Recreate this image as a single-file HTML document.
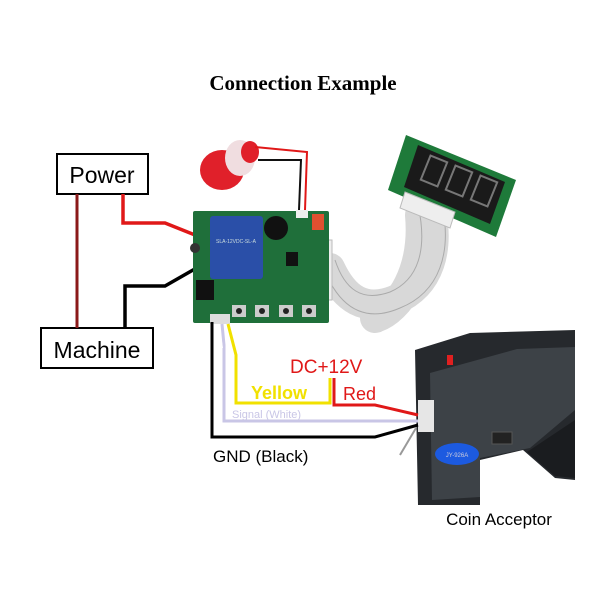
<!DOCTYPE html>
<html><head><style>
html,body{margin:0;padding:0;background:#fff;}
svg{display:block;}
text{font-family:"Liberation Sans",sans-serif;}
</style></head><body>
<svg width="600" height="600" viewBox="0 0 600 600" xmlns="http://www.w3.org/2000/svg">
<rect width="600" height="600" fill="#fff"/>
<text x="303" y="90" text-anchor="middle" style="font-family:'Liberation Serif',serif;font-weight:bold;font-size:21px">Connection Example</text>

<!-- boxes -->
<rect x="57" y="154" width="91" height="40" fill="#fff" stroke="#000" stroke-width="2"/>
<text x="102" y="183" text-anchor="middle" font-size="23">Power</text>
<rect x="41" y="328" width="112" height="40" fill="#fff" stroke="#000" stroke-width="2"/>
<text x="97" y="358" text-anchor="middle" font-size="23">Machine</text>
<line x1="77" y1="194" x2="77" y2="328" stroke="#8b1a1a" stroke-width="3"/>
<polyline points="123,194 123,223 165,223 200,237" fill="none" stroke="#e01818" stroke-width="3.5"/>
<polyline points="125,328 125,286 165,286 200,266" fill="none" stroke="#000" stroke-width="3.5"/>

<!-- ribbon cable -->
<g fill="none" stroke="#d8d8d8" stroke-width="30" stroke-linecap="round">
<path d="M430,205 C440,250 430,285 395,300 C365,312 345,300 330,268"/>
<path d="M420,215 C425,270 400,310 375,318"/>
</g>
<g fill="none" stroke="#aaa" stroke-width="1">
<path d="M418,205 C428,250 418,280 390,292 C362,302 345,290 335,260"/>
<path d="M442,205 C452,252 440,292 400,308 C368,322 345,310 330,282"/>
</g>
<rect x="318" y="240" width="14" height="60" fill="#eee" stroke="#bbb"/>

<!-- display -->
<polygon points="406,135 516,180 496,237 388,190" fill="#1e7a3a"/>
<polygon points="418,145 505,182 490,224 404,187" fill="#1a1a1a"/>
<g fill="none" stroke="#777" stroke-width="2">
<rect x="425" y="158" width="18" height="26" transform="rotate(22 434 171)"/>
<rect x="450" y="168" width="18" height="26" transform="rotate(22 459 181)"/>
<rect x="475" y="178" width="18" height="26" transform="rotate(22 484 191)"/>
</g>
<polygon points="405,192 455,212 450,228 400,208" fill="#eee" stroke="#bbb"/>

<!-- button -->
<ellipse cx="222" cy="170" rx="22" ry="20" fill="#e0202a"/>
<ellipse cx="240" cy="158" rx="15" ry="18" fill="#f0dde0"/>
<ellipse cx="250" cy="152" rx="9" ry="11" fill="#e0202a"/>
<polyline points="255,147 307,152 305,210" fill="none" stroke="#e01818" stroke-width="2"/>
<polyline points="258,160 301,160 299,210" fill="none" stroke="#111" stroke-width="2"/>

<!-- board -->
<rect x="193" y="211" width="136" height="112" fill="#1f6f3a" rx="2"/>
<rect x="210" y="216" width="53" height="63" fill="#2a4fa8" rx="3"/>
<text x="216" y="243" font-size="5" fill="#cdd">SLA-12VDC-SL-A</text>
<circle cx="276" cy="228" r="12" fill="#111"/>
<rect x="312" y="214" width="12" height="16" fill="#e05030"/>
<rect x="296" y="210" width="12" height="8" fill="#eee"/>
<rect x="196" y="280" width="18" height="20" fill="#111"/>
<rect x="286" y="252" width="12" height="14" fill="#111"/>
<g fill="#ccc"><rect x="232" y="305" width="14" height="12"/><rect x="255" y="305" width="14" height="12"/><rect x="279" y="305" width="14" height="12"/><rect x="302" y="305" width="14" height="12"/></g>
<g fill="#222"><circle cx="239" cy="311" r="3"/><circle cx="262" cy="311" r="3"/><circle cx="286" cy="311" r="3"/><circle cx="309" cy="311" r="3"/></g>
<circle cx="195" cy="248" r="5" fill="#333"/>
<rect x="210" y="314" width="20" height="10" fill="#ddd"/>

<!-- coin acceptor -->
<polygon points="415,350 470,333 575,330 575,480 555,478 523,450 480,460 480,505 418,505" fill="#26292d"/>
<polygon points="430,373 517,349 575,347 575,410 530,448 480,458 480,497 432,500" fill="#3d4247"/>
<polygon points="527,452 575,420 575,478 555,476" fill="#1a1c1f"/>
<rect x="418" y="400" width="16" height="32" fill="#e6e6e6"/>
<rect x="447" y="355" width="6" height="10" fill="#e02020"/>
<rect x="492" y="432" width="20" height="12" fill="#222" stroke="#555"/>
<ellipse cx="457" cy="454" rx="22" ry="11" fill="#1c5ae0"/>
<text x="457" y="457" text-anchor="middle" font-size="6" fill="#ccd">JY-926A</text>

<!-- signal wires -->
<polyline points="212,322 212,437 375,437 418,425" fill="none" stroke="#000" stroke-width="3"/>
<polyline points="222,324 224,345 224,421 418,421" fill="none" stroke="#c9c6e6" stroke-width="3"/>
<polyline points="218,324 222,348" fill="none" stroke="#fff" stroke-width="2"/>
<polyline points="228,324 236,355 236,403 330,403 330,378" fill="none" stroke="#f1e100" stroke-width="3"/>
<polyline points="334,378 334,405 375,405 418,415" fill="none" stroke="#e01818" stroke-width="3"/>
<line x1="416" y1="428" x2="400" y2="455" stroke="#999" stroke-width="2"/>

<text x="290" y="373" font-size="19" fill="#e01818">DC+12V</text>
<text x="251" y="399" font-size="18" fill="#f1e100" font-weight="bold">Yellow</text>
<text x="343" y="400" font-size="18" fill="#e01818">Red</text>
<text x="232" y="418" font-size="11" fill="#c9c6e6">Signal (White)</text>
<text x="213" y="462" font-size="17">GND (Black)</text>
<text x="499" y="525" text-anchor="middle" font-size="17">Coin Acceptor</text>
</svg>
</body></html>
